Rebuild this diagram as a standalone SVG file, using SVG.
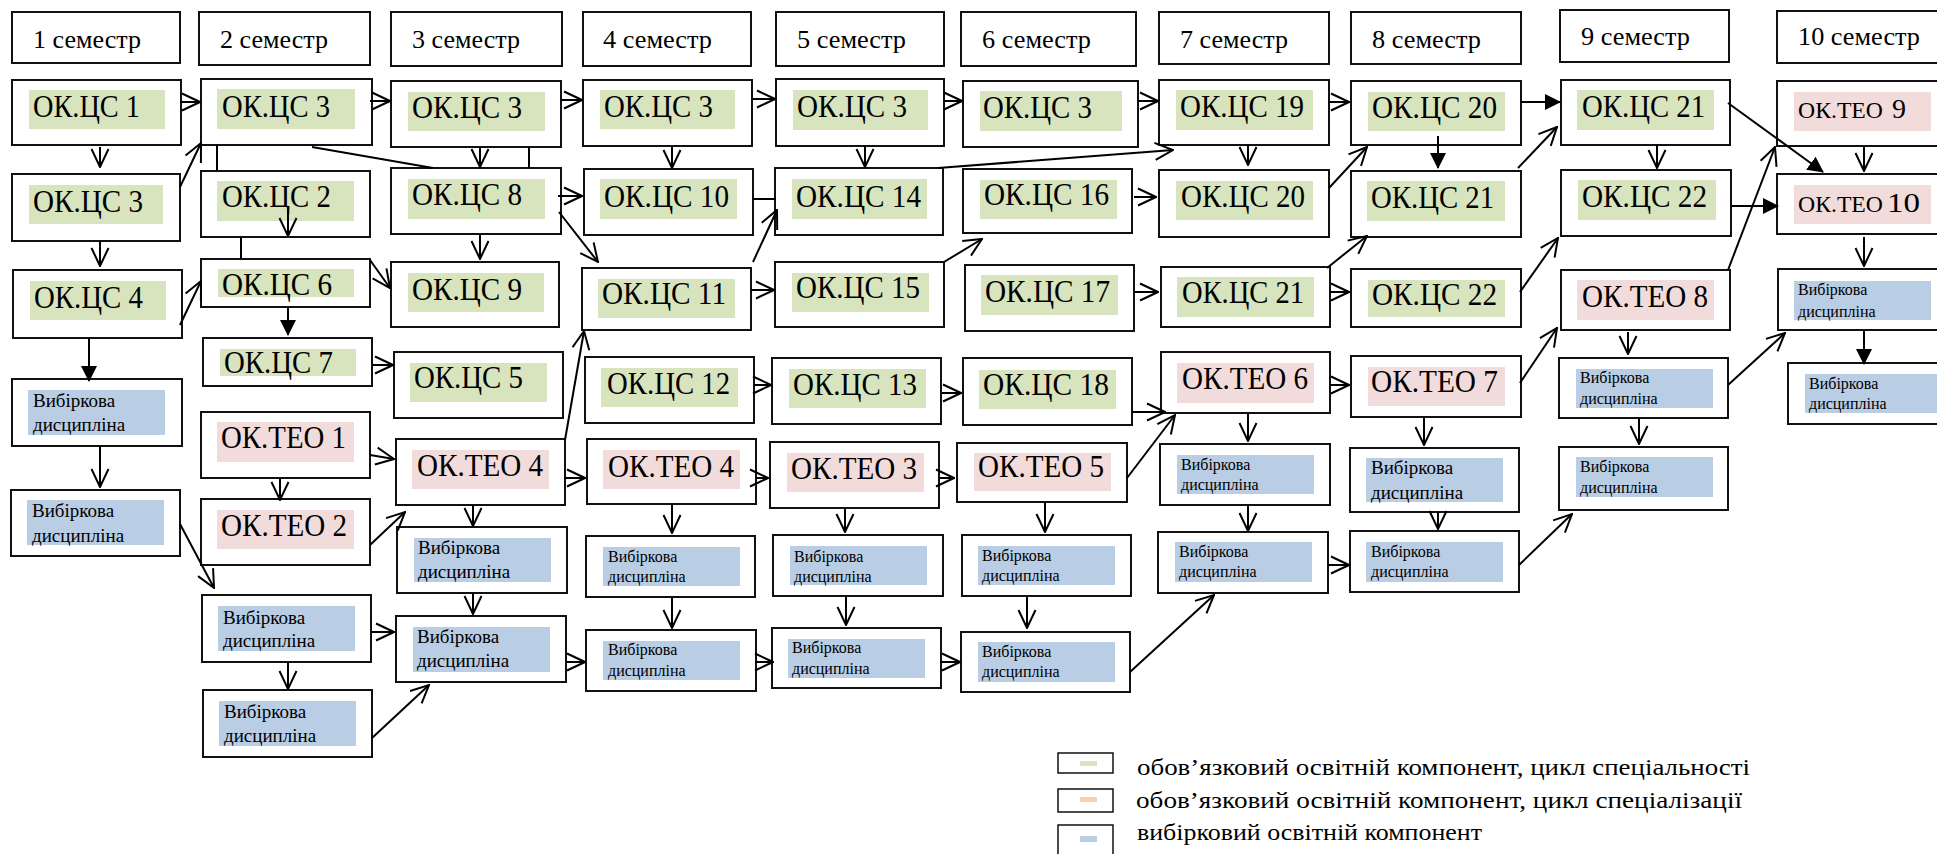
<svg xmlns="http://www.w3.org/2000/svg" width="1937" height="854" viewBox="0 0 1937 854">
<style>
.box{fill:#fff;stroke:#111;stroke-width:2}
.g{fill:#d7e4bd}.p{fill:#f2dcdb}.b{fill:#b9cde5}.o{fill:#fbd0b0}
.t{font-family:"Liberation Serif","Times New Roman",serif;fill:#000}
.hd{font-size:26px}.lb{font-size:32px}.vl{font-size:19px}.vs{font-size:16px}.lg{font-size:24px}
.c{stroke:#000;stroke-width:2;fill:none}
</style>
<defs>
<marker id="a" viewBox="0 0 20 20" refX="19" refY="10" markerWidth="20" markerHeight="20" markerUnits="userSpaceOnUse" orient="auto"><path d="M1,1.5 L19,10 L1,18.5" fill="none" stroke="#000" stroke-width="2"/></marker>
<marker id="f" viewBox="0 0 16 16" refX="15" refY="8" markerWidth="16" markerHeight="16" markerUnits="userSpaceOnUse" orient="auto"><path d="M0,0 L16,8 L0,16 z" fill="#000"/></marker>
</defs>
<rect width="1937" height="854" fill="#fff"/>

<g id="headers">
<g id="h1"><rect class="box" x="12" y="12" width="168" height="51"/><text class="t hd" x="33" y="48" textLength="108" lengthAdjust="spacingAndGlyphs">1 семестр</text></g>
<g id="h2"><rect class="box" x="199" y="12" width="171" height="53"/><text class="t hd" x="220" y="48" textLength="108" lengthAdjust="spacingAndGlyphs">2 семестр</text></g>
<g id="h3"><rect class="box" x="391" y="12" width="171" height="54"/><text class="t hd" x="412" y="48" textLength="108" lengthAdjust="spacingAndGlyphs">3 семестр</text></g>
<g id="h4"><rect class="box" x="583" y="12" width="168" height="54"/><text class="t hd" x="603" y="48" textLength="109" lengthAdjust="spacingAndGlyphs">4 семестр</text></g>
<g id="h5"><rect class="box" x="776" y="12" width="168" height="54"/><text class="t hd" x="797" y="48" textLength="109" lengthAdjust="spacingAndGlyphs">5 семестр</text></g>
<g id="h6"><rect class="box" x="961" y="12" width="175" height="54"/><text class="t hd" x="982" y="48" textLength="109" lengthAdjust="spacingAndGlyphs">6 семестр</text></g>
<g id="h7"><rect class="box" x="1159" y="12" width="170" height="52"/><text class="t hd" x="1180" y="48" textLength="108" lengthAdjust="spacingAndGlyphs">7 семестр</text></g>
<g id="h8"><rect class="box" x="1351" y="12" width="170" height="52"/><text class="t hd" x="1372" y="48" textLength="109" lengthAdjust="spacingAndGlyphs">8 семестр</text></g>
<g id="h9"><rect class="box" x="1560" y="10" width="169" height="52"/><text class="t hd" x="1581" y="45" textLength="109" lengthAdjust="spacingAndGlyphs">9 семестр</text></g>
<g id="h10"><rect class="box" x="1777" y="11" width="175" height="52"/><text class="t hd" x="1798" y="45" textLength="122" lengthAdjust="spacingAndGlyphs">10 семестр</text></g>
</g>

<g id="c1">
<g id="c1n1"><rect class="box" x="12" y="80" width="169" height="65"/><rect class="g" x="29" y="90" width="136" height="39"/><text class="t lb" x="33" y="117" textLength="107" lengthAdjust="spacingAndGlyphs">ОК.ЦС 1</text></g>
<g id="c1n2"><rect class="box" x="12" y="174" width="168" height="67"/><rect class="g" x="29" y="185" width="134" height="39"/><text class="t lb" x="33" y="212" textLength="110" lengthAdjust="spacingAndGlyphs">ОК.ЦС 3</text></g>
<g id="c1n3"><rect class="box" x="13" y="270" width="169" height="68"/><rect class="g" x="30" y="281" width="136" height="39"/><text class="t lb" x="34" y="308" textLength="109" lengthAdjust="spacingAndGlyphs">ОК.ЦС 4</text></g>
<g id="c1v1"><rect class="box" x="12" y="379" width="170" height="67"/><rect class="b" x="28" y="390" width="137" height="45"/><text class="t vl" x="33" y="407">Вибіркова</text><text class="t vl" x="33" y="431">дисципліна</text></g>
<g id="c1v2"><rect class="box" x="11" y="490" width="169" height="66"/><rect class="b" x="27" y="500" width="137" height="45"/><text class="t vl" x="32" y="517">Вибіркова</text><text class="t vl" x="32" y="542">дисципліна</text></g>
</g>

<g id="c2">
<g id="c2n1"><rect class="box" x="201" y="79" width="171" height="66"/><rect class="g" x="217" y="89" width="138" height="40"/><text class="t lb" x="222" y="117" textLength="108" lengthAdjust="spacingAndGlyphs">ОК.ЦС 3</text></g>
<g id="c2n2"><rect class="box" x="201" y="171" width="169" height="66"/><rect class="g" x="217" y="181" width="137" height="40"/><text class="t lb" x="222" y="207" textLength="109" lengthAdjust="spacingAndGlyphs">ОК.ЦС 2</text></g>
<g id="c2n3"><rect class="box" x="201" y="259" width="169" height="48"/><rect class="g" x="218" y="269" width="136" height="28"/><text class="t lb" x="222" y="295" textLength="110" lengthAdjust="spacingAndGlyphs">ОК.ЦС 6</text></g>
<g id="c2n4"><rect class="box" x="203" y="338" width="169" height="48"/><rect class="g" x="220" y="349" width="136" height="27"/><text class="t lb" x="224" y="373" textLength="109" lengthAdjust="spacingAndGlyphs">ОК.ЦС 7</text></g>
<g id="c2n5"><rect class="box" x="201" y="412" width="169" height="66"/><rect class="p" x="217" y="422" width="137" height="40"/><text class="t lb" x="221" y="448" textLength="125" lengthAdjust="spacingAndGlyphs">ОК.ТЕО 1</text></g>
<g id="c2n6"><rect class="box" x="201" y="499" width="169" height="66"/><rect class="p" x="217" y="510" width="137" height="39"/><text class="t lb" x="221" y="536" textLength="126" lengthAdjust="spacingAndGlyphs">ОК.ТЕО 2</text></g>
<g id="c2v1"><rect class="box" x="202" y="595" width="169" height="67"/><rect class="b" x="218" y="606" width="137" height="45"/><text class="t vl" x="223" y="624">Вибіркова</text><text class="t vl" x="223" y="647">дисципліна</text></g>
<g id="c2v2"><rect class="box" x="203" y="690" width="169" height="67"/><rect class="b" x="219" y="701" width="137" height="45"/><text class="t vl" x="224" y="718">Вибіркова</text><text class="t vl" x="224" y="742">дисципліна</text></g>
</g>

<g id="c3">
<g id="c3n1"><rect class="box" x="391" y="81" width="170" height="66"/><rect class="g" x="408" y="92" width="137" height="39"/><text class="t lb" x="412" y="118" textLength="110" lengthAdjust="spacingAndGlyphs">ОК.ЦС 3</text></g>
<g id="c3n2"><rect class="box" x="391" y="168" width="170" height="66"/><rect class="g" x="408" y="179" width="137" height="40"/><text class="t lb" x="412" y="205" textLength="110" lengthAdjust="spacingAndGlyphs">ОК.ЦС 8</text></g>
<g id="c3n3"><rect class="box" x="391" y="262" width="168" height="65"/><rect class="g" x="408" y="273" width="136" height="39"/><text class="t lb" x="412" y="300" textLength="110" lengthAdjust="spacingAndGlyphs">ОК.ЦС 9</text></g>
<g id="c3n4"><rect class="box" x="394" y="352" width="169" height="66"/><rect class="g" x="410" y="363" width="137" height="39"/><text class="t lb" x="414" y="388" textLength="109" lengthAdjust="spacingAndGlyphs">ОК.ЦС 5</text></g>
<g id="c3n5"><rect class="box" x="396" y="439" width="169" height="66"/><rect class="p" x="412" y="450" width="137" height="39"/><text class="t lb" x="417" y="476" textLength="126" lengthAdjust="spacingAndGlyphs">ОК.ТЕО 4</text></g>
<g id="c3v1"><rect class="box" x="397" y="527" width="170" height="66"/><rect class="b" x="414" y="538" width="137" height="44"/><text class="t vl" x="418" y="554">Вибіркова</text><text class="t vl" x="418" y="578">дисципліна</text></g>
<g id="c3v2"><rect class="box" x="396" y="616" width="170" height="66"/><rect class="b" x="413" y="627" width="137" height="45"/><text class="t vl" x="417" y="643">Вибіркова</text><text class="t vl" x="417" y="667">дисципліна</text></g>
</g>

<g id="c4">
<g id="c4n1"><rect class="box" x="583" y="80" width="169" height="66"/><rect class="g" x="600" y="90" width="135" height="39"/><text class="t lb" x="604" y="117" textLength="109" lengthAdjust="spacingAndGlyphs">ОК.ЦС 3</text></g>
<g id="c4n2"><rect class="box" x="584" y="169" width="169" height="66"/><rect class="g" x="600" y="179" width="137" height="40"/><text class="t lb" x="604" y="207" textLength="125" lengthAdjust="spacingAndGlyphs">ОК.ЦС 10</text></g>
<g id="c4n3"><rect class="box" x="582" y="268" width="169" height="62"/><rect class="g" x="598" y="279" width="137" height="39"/><text class="t lb" x="602" y="304" textLength="124" lengthAdjust="spacingAndGlyphs">ОК.ЦС 11</text></g>
<g id="c4n4"><rect class="box" x="585" y="357" width="169" height="66"/><rect class="g" x="601" y="368" width="137" height="39"/><text class="t lb" x="607" y="394" textLength="123" lengthAdjust="spacingAndGlyphs">ОК.ЦС 12</text></g>
<g id="c4n5"><rect class="box" x="587" y="439" width="169" height="65"/><rect class="p" x="603" y="450" width="137" height="39"/><text class="t lb" x="608" y="477" textLength="126" lengthAdjust="spacingAndGlyphs">ОК.ТЕО 4</text></g>
<g id="c4v1"><rect class="box" x="586" y="536" width="169" height="61"/><rect class="b" x="603" y="547" width="137" height="39"/><text class="t vs" x="608" y="562">Вибіркова</text><text class="t vs" x="608" y="582">дисципліна</text></g>
<g id="c4v2"><rect class="box" x="586" y="630" width="170" height="61"/><rect class="b" x="603" y="641" width="137" height="39"/><text class="t vs" x="608" y="655">Вибіркова</text><text class="t vs" x="608" y="676">дисципліна</text></g>
</g>

<g id="c5">
<g id="c5n1"><rect class="box" x="776" y="79" width="168" height="67"/><rect class="g" x="793" y="90" width="135" height="40"/><text class="t lb" x="797" y="117" textLength="110" lengthAdjust="spacingAndGlyphs">ОК.ЦС 3</text></g>
<g id="c5n2"><rect class="box" x="775" y="168" width="168" height="67"/><rect class="g" x="792" y="179" width="135" height="40"/><text class="t lb" x="796" y="207" textLength="125" lengthAdjust="spacingAndGlyphs">ОК.ЦС 14</text></g>
<g id="c5n3"><rect class="box" x="775" y="262" width="169" height="65"/><rect class="g" x="792" y="273" width="137" height="39"/><text class="t lb" x="796" y="298" textLength="124" lengthAdjust="spacingAndGlyphs">ОК.ЦС 15</text></g>
<g id="c5n4"><rect class="box" x="772" y="358" width="169" height="66"/><rect class="g" x="789" y="369" width="137" height="39"/><text class="t lb" x="793" y="395" textLength="124" lengthAdjust="spacingAndGlyphs">ОК.ЦС 13</text></g>
<g id="c5n5"><rect class="box" x="770" y="442" width="169" height="66"/><rect class="p" x="787" y="453" width="137" height="39"/><text class="t lb" x="791" y="479" textLength="126" lengthAdjust="spacingAndGlyphs">ОК.ТЕО 3</text></g>
<g id="c5v1"><rect class="box" x="773" y="535" width="170" height="61"/><rect class="b" x="790" y="546" width="137" height="39"/><text class="t vs" x="794" y="562">Вибіркова</text><text class="t vs" x="794" y="582">дисципліна</text></g>
<g id="c5v2"><rect class="box" x="772" y="628" width="169" height="60"/><rect class="b" x="788" y="639" width="137" height="39"/><text class="t vs" x="792" y="653">Вибіркова</text><text class="t vs" x="792" y="674">дисципліна</text></g>
</g>

<g id="c6">
<g id="c6n1"><rect class="box" x="963" y="81" width="175" height="66"/><rect class="g" x="980" y="91" width="142" height="40"/><text class="t lb" x="983" y="118" textLength="109" lengthAdjust="spacingAndGlyphs">ОК.ЦС 3</text></g>
<g id="c6n2"><rect class="box" x="963" y="169" width="169" height="64"/><rect class="g" x="980" y="180" width="137" height="39"/><text class="t lb" x="984" y="205" textLength="125" lengthAdjust="spacingAndGlyphs">ОК.ЦС 16</text></g>
<g id="c6n3"><rect class="box" x="965" y="265" width="169" height="66"/><rect class="g" x="981" y="275" width="137" height="40"/><text class="t lb" x="985" y="302" textLength="125" lengthAdjust="spacingAndGlyphs">ОК.ЦС 17</text></g>
<g id="c6n4"><rect class="box" x="963" y="358" width="169" height="67"/><rect class="g" x="979" y="370" width="137" height="39"/><text class="t lb" x="983" y="395" textLength="126" lengthAdjust="spacingAndGlyphs">ОК.ЦС 18</text></g>
<g id="c6n5"><rect class="box" x="957" y="443" width="170" height="59"/><rect class="p" x="974" y="453" width="137" height="38"/><text class="t lb" x="978" y="477" textLength="126" lengthAdjust="spacingAndGlyphs">ОК.ТЕО 5</text></g>
<g id="c6v1"><rect class="box" x="962" y="535" width="169" height="61"/><rect class="b" x="978" y="546" width="137" height="39"/><text class="t vs" x="982" y="561">Вибіркова</text><text class="t vs" x="982" y="581">дисципліна</text></g>
<g id="c6v2"><rect class="box" x="961" y="632" width="169" height="60"/><rect class="b" x="978" y="642" width="137" height="40"/><text class="t vs" x="982" y="657">Вибіркова</text><text class="t vs" x="982" y="677">дисципліна</text></g>
</g>

<g id="c7">
<g id="c7n1"><rect class="box" x="1159" y="80" width="170" height="65"/><rect class="g" x="1176" y="90" width="137" height="40"/><text class="t lb" x="1180" y="117" textLength="124" lengthAdjust="spacingAndGlyphs">ОК.ЦС 19</text></g>
<g id="c7n2"><rect class="box" x="1159" y="170" width="170" height="67"/><rect class="g" x="1176" y="181" width="137" height="39"/><text class="t lb" x="1181" y="207" textLength="124" lengthAdjust="spacingAndGlyphs">ОК.ЦС 20</text></g>
<g id="c7n3"><rect class="box" x="1161" y="267" width="169" height="60"/><rect class="g" x="1177" y="277" width="137" height="40"/><text class="t lb" x="1182" y="303" textLength="122" lengthAdjust="spacingAndGlyphs">ОК.ЦС 21</text></g>
<g id="c7n4"><rect class="box" x="1161" y="352" width="169" height="61"/><rect class="p" x="1177" y="363" width="137" height="40"/><text class="t lb" x="1182" y="389" textLength="126" lengthAdjust="spacingAndGlyphs">ОК.ТЕО 6</text></g>
<g id="c7v1"><rect class="box" x="1160" y="444" width="170" height="61"/><rect class="b" x="1177" y="455" width="137" height="39"/><text class="t vs" x="1181" y="470">Вибіркова</text><text class="t vs" x="1181" y="490">дисципліна</text></g>
<g id="c7v2"><rect class="box" x="1158" y="532" width="170" height="61"/><rect class="b" x="1175" y="542" width="137" height="40"/><text class="t vs" x="1179" y="557">Вибіркова</text><text class="t vs" x="1179" y="577">дисципліна</text></g>
</g>

<g id="c8">
<g id="c8n1"><rect class="box" x="1351" y="81" width="170" height="64"/><rect class="g" x="1368" y="92" width="137" height="39"/><text class="t lb" x="1372" y="118" textLength="125" lengthAdjust="spacingAndGlyphs">ОК.ЦС 20</text></g>
<g id="c8n2"><rect class="box" x="1351" y="171" width="170" height="66"/><rect class="g" x="1367" y="181" width="138" height="40"/><text class="t lb" x="1371" y="208" textLength="123" lengthAdjust="spacingAndGlyphs">ОК.ЦС 21</text></g>
<g id="c8n3"><rect class="box" x="1351" y="269" width="170" height="58"/><rect class="g" x="1368" y="280" width="137" height="37"/><text class="t lb" x="1372" y="305" textLength="125" lengthAdjust="spacingAndGlyphs">ОК.ЦС 22</text></g>
<g id="c8n4"><rect class="box" x="1351" y="356" width="170" height="61"/><rect class="p" x="1368" y="367" width="137" height="39"/><text class="t lb" x="1371" y="392" textLength="127" lengthAdjust="spacingAndGlyphs">ОК.ТЕО 7</text></g>
<g id="c8v1"><rect class="box" x="1350" y="448" width="169" height="64"/><rect class="b" x="1366" y="458" width="137" height="44"/><text class="t vl" x="1371" y="474">Вибіркова</text><text class="t vl" x="1371" y="499">дисципліна</text></g>
<g id="c8v2"><rect class="box" x="1350" y="531" width="169" height="61"/><rect class="b" x="1366" y="542" width="137" height="40"/><text class="t vs" x="1371" y="557">Вибіркова</text><text class="t vs" x="1371" y="577">дисципліна</text></g>
</g>

<g id="c9">
<g id="c9n1"><rect class="box" x="1561" y="80" width="169" height="65"/><rect class="g" x="1577" y="90" width="137" height="40"/><text class="t lb" x="1582" y="117" textLength="123" lengthAdjust="spacingAndGlyphs">ОК.ЦС 21</text></g>
<g id="c9n2"><rect class="box" x="1561" y="170" width="170" height="66"/><rect class="g" x="1578" y="180" width="138" height="40"/><text class="t lb" x="1582" y="207" textLength="125" lengthAdjust="spacingAndGlyphs">ОК.ЦС 22</text></g>
<g id="c9n3"><rect class="box" x="1561" y="270" width="169" height="60"/><rect class="p" x="1577" y="280" width="137" height="40"/><text class="t lb" x="1582" y="307" textLength="126" lengthAdjust="spacingAndGlyphs">ОК.ТЕО 8</text></g>
<g id="c9v1"><rect class="box" x="1559" y="358" width="169" height="60"/><rect class="b" x="1576" y="369" width="137" height="39"/><text class="t vs" x="1580" y="383">Вибіркова</text><text class="t vs" x="1580" y="404">дисципліна</text></g>
<g id="c9v2"><rect class="box" x="1559" y="447" width="169" height="63"/><rect class="b" x="1576" y="457" width="137" height="40"/><text class="t vs" x="1580" y="472">Вибіркова</text><text class="t vs" x="1580" y="493">дисципліна</text></g>
</g>

<g id="c10">
<g id="c10n1"><rect class="box" x="1777" y="81" width="175" height="65"/><rect class="p" x="1794" y="92" width="137" height="39"/><text class="t" x="1798" y="118"><tspan font-size="23" textLength="85" lengthAdjust="spacingAndGlyphs">ОК.ТЕО</tspan><tspan x="1892" font-size="28">9</tspan></text></g>
<g id="c10n2"><rect class="box" x="1777" y="174" width="175" height="60"/><rect class="p" x="1794" y="185" width="137" height="39"/><text class="t" x="1798" y="212"><tspan font-size="23" textLength="85" lengthAdjust="spacingAndGlyphs">ОК.ТЕО</tspan><tspan x="1887" font-size="28" textLength="33" lengthAdjust="spacingAndGlyphs">10</tspan></text></g>
<g id="c10v1"><rect class="box" x="1778" y="269" width="175" height="61"/><rect class="b" x="1794" y="281" width="137" height="39"/><text class="t vs" x="1798" y="295">Вибіркова</text><text class="t vs" x="1798" y="317">дисципліна</text></g>
<g id="c10v2"><rect class="box" x="1788" y="363" width="165" height="61"/><rect class="b" x="1805" y="374" width="137" height="39"/><text class="t vs" x="1809" y="389">Вибіркова</text><text class="t vs" x="1809" y="409">дисципліна</text></g>
</g>

<g id="connectors" class="c">
<path d="M100,147 L100,167" marker-end="url(#a)"/>
<path d="M100,241 L100,266" marker-end="url(#a)"/>
<path d="M89,338 L89,381" marker-end="url(#f)"/>
<path d="M100,446 L100,487" marker-end="url(#a)"/>
<path d="M180,524 L214,588" marker-end="url(#a)"/>
<path d="M181,102 L200,102" marker-end="url(#a)"/>
<path d="M180,187 L201,143" marker-end="url(#a)"/>
<path d="M180,325 L201,281" marker-end="url(#a)"/>
<path d="M217,145 L217,171"/>
<path d="M288,207 L288,236" marker-end="url(#a)"/>
<path d="M241,237 L241,259"/>
<path d="M288,307 L288,335" marker-end="url(#f)"/>
<path d="M370,260 L390,288" marker-end="url(#a)"/>
<path d="M370,101 L390,101" marker-end="url(#a)"/>
<path d="M312,147 L433,168"/>
<path d="M529,147 L529,168"/>
<path d="M480,147 L480,167" marker-end="url(#a)"/>
<path d="M480,234 L480,259" marker-end="url(#a)"/>
<path d="M558,196 L582,196" marker-end="url(#a)"/>
<path d="M559,212 L598,262" marker-end="url(#a)"/>
<path d="M372,365 L393,365" marker-end="url(#a)"/>
<path d="M370,455 L394,459" marker-end="url(#a)"/>
<path d="M280,478 L280,500" marker-end="url(#a)"/>
<path d="M370,545 L405,512" marker-end="url(#a)"/>
<path d="M288,662 L288,689" marker-end="url(#a)"/>
<path d="M371,632 L394,632" marker-end="url(#a)"/>
<path d="M372,738 L429,685" marker-end="url(#a)"/>
<path d="M473,505 L473,526" marker-end="url(#a)"/>
<path d="M473,593 L473,614" marker-end="url(#a)"/>
<path d="M565,478 L585,478" marker-end="url(#a)"/>
<path d="M565,440 L584,331" marker-end="url(#a)"/>
<path d="M566,662 L585,662" marker-end="url(#a)"/>
<path d="M561,100 L582,100" marker-end="url(#a)"/>
<path d="M672,146 L672,168" marker-end="url(#a)"/>
<path d="M753,99 L775,99" marker-end="url(#a)"/>
<path d="M753,199 L776,199"/>
<path d="M753,262 L777,210" marker-end="url(#a)"/>
<path d="M751,290 L774,290" marker-end="url(#a)"/>
<path d="M865,146 L865,167" marker-end="url(#a)"/>
<path d="M944,101 L962,101" marker-end="url(#a)"/>
<path d="M938,168 L1173,150" marker-end="url(#a)"/>
<path d="M944,262 L982,239" marker-end="url(#a)"/>
<path d="M754,385 L771,385" marker-end="url(#a)"/>
<path d="M942,393 L961,393" marker-end="url(#a)"/>
<path d="M756,478 L768,478" marker-end="url(#a)"/>
<path d="M939,478 L954,478" marker-end="url(#a)"/>
<path d="M672,504 L672,533" marker-end="url(#a)"/>
<path d="M672,597 L672,628" marker-end="url(#a)"/>
<path d="M845,508 L845,532" marker-end="url(#a)"/>
<path d="M846,596 L846,625" marker-end="url(#a)"/>
<path d="M756,662 L773,662" marker-end="url(#a)"/>
<path d="M941,662 L960,662" marker-end="url(#a)"/>
<path d="M1045,502 L1045,532" marker-end="url(#a)"/>
<path d="M1027,596 L1027,628" marker-end="url(#a)"/>
<path d="M1130,672 L1214,595" marker-end="url(#a)"/>
<path d="M1138,101 L1158,101" marker-end="url(#a)"/>
<path d="M1134,197 L1156,197" marker-end="url(#a)"/>
<path d="M1134,292 L1158,292" marker-end="url(#a)"/>
<path d="M1132,412 L1165,412" marker-end="url(#a)"/>
<path d="M1127,478 L1175,415" marker-end="url(#a)"/>
<path d="M1330,385 L1349,385" marker-end="url(#a)"/>
<path d="M1248,413 L1248,441" marker-end="url(#a)"/>
<path d="M1248,505 L1248,531" marker-end="url(#a)"/>
<path d="M1424,417 L1424,445" marker-end="url(#a)"/>
<path d="M1438,512 L1438,529" marker-end="url(#a)"/>
<path d="M1328,565 L1349,565" marker-end="url(#a)"/>
<path d="M1519,565 L1572,514" marker-end="url(#a)"/>
<path d="M1248,145 L1248,165" marker-end="url(#a)"/>
<path d="M1329,102 L1349,102" marker-end="url(#a)"/>
<path d="M1329,188 L1367,147" marker-end="url(#a)"/>
<path d="M1327,268 L1367,236" marker-end="url(#a)"/>
<path d="M1330,292 L1349,292" marker-end="url(#a)"/>
<path d="M1438,136 L1438,168" marker-end="url(#f)"/>
<path d="M1521,102 L1560,102" marker-end="url(#f)"/>
<path d="M1518,168 L1557,127" marker-end="url(#a)"/>
<path d="M1520,292 L1558,238" marker-end="url(#a)"/>
<path d="M1520,383 L1557,328" marker-end="url(#a)"/>
<path d="M1657,145 L1657,168" marker-end="url(#a)"/>
<path d="M1628,332 L1628,354" marker-end="url(#a)"/>
<path d="M1639,418 L1639,444" marker-end="url(#a)"/>
<path d="M1728,103 L1823,172" marker-end="url(#f)"/>
<path d="M1731,206 L1778,206" marker-end="url(#f)"/>
<path d="M1728,270 L1775,147" marker-end="url(#a)"/>
<path d="M1728,385 L1785,333" marker-end="url(#a)"/>
<path d="M1864,146 L1864,171" marker-end="url(#a)"/>
<path d="M1864,237 L1864,266" marker-end="url(#a)"/>
<path d="M1864,330 L1864,364" marker-end="url(#f)"/>
</g>

<g id="legend">
<rect x="1058" y="753" width="55" height="20" fill="#fff" stroke="#111" stroke-width="1.5"/>
<rect class="g" x="1080" y="761" width="17" height="5"/>
<rect x="1058" y="789" width="55" height="23" fill="#fff" stroke="#111" stroke-width="1.5"/>
<rect class="o" x="1080" y="797" width="17" height="5"/>
<rect x="1058" y="825" width="55" height="40" fill="#fff" stroke="#111" stroke-width="1.5"/>
<rect class="b" x="1080" y="836" width="17" height="6"/>
<text class="t lg" x="1137" y="775" textLength="613" lengthAdjust="spacingAndGlyphs">обов’язковий освітній компонент, цикл спеціальності</text>
<text class="t lg" x="1136" y="808" textLength="606" lengthAdjust="spacingAndGlyphs">обов’язковий освітній компонент, цикл спеціалізації</text>
<text class="t lg" x="1137" y="840" textLength="345" lengthAdjust="spacingAndGlyphs">вибірковий освітній компонент</text>
</g>
</svg>
